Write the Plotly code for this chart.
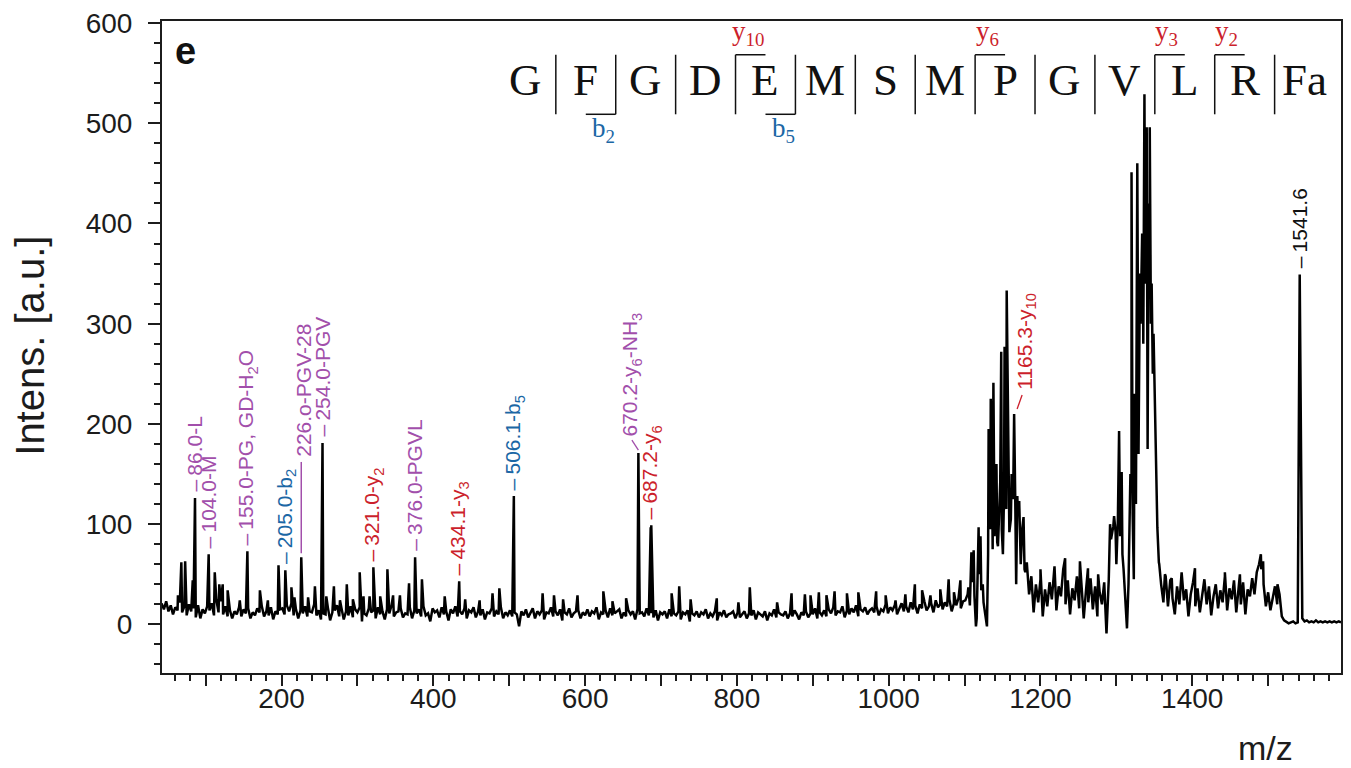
import numpy as np
import plotly.graph_objects as go

# ---------------------------------------------------------------
# MALDI spectrum of GFGDEMSMPGVLRFa (intensity vs m/z)
# ---------------------------------------------------------------
STEP = 3.0  # m/z spacing of the background samples

# background trace, one list per m/z segment
bg_42 = [21, 15, 23, 13, 19, 10, 17, 14, 22, 12,
         18, 9, 20, 13, 16, 7, 19, 6, 15, 11,
         18, 14, 21, 9, 25, 12, 23, 10, 18, 8,
         14, 6, 13, 10, 17, 8, 15, 11, 16, 6,
         12, 9, 16, 12, 18, 8, 13, 9, 17, 5,
         13, 10, 15]
bg_201 = [16, 10, 19, 13, 21, 9, 15, 6, 14, 11,
          18, 8, 13, 12, 20, 9, 14, 5, 11, 10,
          17, 4, 12, 14, 19, 8, 16, 5, 13, 9,
          18, 7, 15, 12, 17, 3, 11, 9, 16, 12,
          14, 6, 17, 10, 13, 5, 15, 11, 19, 8,
          12, 13, 16, 7, 11, 10, 17, 6, 14, 11,
          15, 8, 18, 9, 11, 3, 16, 12, 14, 7,
          17, 10, 13, 4, 15, 11, 18, 8, 13, 10,
          16, 6, 14, 12, 17, 7, 13, 9, 15, 5,
          12, 11, 16, 8, 13, 10, 17, 6, 12, 9]
bg_501 = [14, 8, 12, 10, -2, 13, 9, 15, 7, 12,
          16, 6, 13, 10, 14, 5, 12, 11, 17, 8,
          13, 9, 15, 4, 12, 10, 16, 7, 11, 13,
          14, 6, 12, 9, 15, 8, 13, 11, 17, 5,
          12, 10, 14, 7, 16, 9, 11, 13, 15, 6,
          12, 8, 14, 10, 13, 5, 15, 11, 12, 8,
          16, 9, 11, 7, 14, 4, 12, 10, 13, 6,
          15, 8, 11, 9, 13, 5, 12, 10, 14, 3,
          11, 9, 13, 7, 12, 10, 15, 6, 11, 8,
          13, 4, 12, 9, 14, 7, 10, 11, 13, 6]
bg_801 = [12, 7, 10, 13, 6, 11, 9, 14, 5, 12,
          10, 8, 13, 4, 11, 9, 15, 7, 12, 10,
          9, 13, 6, 11, 8, 14, 10, 5, 12, 9,
          13, 7, 11, 10, 16, 6, 12, 9, 14, 8,
          15, 11, 17, 9, 13, 12, 18, 7, 14, 10,
          16, 12, 19, 8, 15, 13, 17, 10, 14, 16,
          12, 18, 9, 15, 13, 20, 11, 17, 14, 19,
          10, 16, 21, 13, 18, 12, 22, 15, 19, 11,
          20, 16, 23, 14, 18, 21, 12, 24, 17, 20,
          15, 22, 18, 25, 13, 21, 19, 26, 16, 23]
bg_1101 = [24, 30, 19, 42, 28, 6, 50, 34, 22, 8,
           70, 95, 75, 110, 82, 120, 95, 130, 115, 150,
           105, 125, 85, 115, 70, 95, 55, 62, 30, 48,
           12, 40, 22, 45, 8, 35, 18, 42, 25, 50,
           14, 38, 28, 55, 20, 44, 10, 36, 24, 48,
           16, 40, 6, 34, 22, 46, 15, 38, 8, 32,
           20, 42, -9, 45, 85, 98, 92, 104, 88, 70,
           35, -4, 100, 140, 45, 160, 210, 300, 380, 340,
           190, 400, 300, 250, 150, 62, 40, 22, 48, 18,
           44, 26, 10, 38, 20, 52, 24, 35, 8, 30]
bg_1401 = [42, 18, 36, 12, 30, 45, 20, 38, 9, 28,
           40, 16, 34, 22, 48, 14, 36, 25, 44, 12,
           38, 20, 42, 10, 35, 28, 46, 30, 52, 60,
           55, 40, 18, 32, 14, 26, 38, 20, 30, 8,
           4, 2, 1, 2, 3, 1, 2, 310, 6, 3,
           4, 2, 3, 2, 4, 2, 3, 2, 3, 2,
           3, 2, 3, 2, 3, 2]
bg_segments = [(42, bg_42), (201, bg_201), (501, bg_501),
               (801, bg_801), (1101, bg_1101), (1401, bg_1401)]

# unlabelled peaks laid on top of the background
spike_mz = [63.5, 68, 73, 83, 112, 118, 122.5, 129, 145, 171.5, 182, 196,
            213, 217, 235, 244, 259, 269, 277, 286, 294, 303, 308, 316, 330,
            339.5, 347, 356, 368, 385, 415, 442, 461, 478, 487,
            544, 559, 571, 590, 624, 636, 654, 671.5, 686.4, 714, 724, 739, 773.5,
            802, 817, 853, 872, 889.6, 897, 908, 918, 928.7, 945, 960, 983.5,
            996, 1009, 1022, 1034.5, 1044, 1055, 1068, 1079, 1086, 1094.5,
            1105, 1109, 1112, 1115, 1118.5, 1121, 1124, 1129.5, 1131.7, 1133,
            1134.5, 1136, 1138, 1139.5, 1142, 1144, 1147, 1148.3, 1150.5, 1152.7,
            1154.2, 1155.5, 1157, 1159, 1162, 1166.7, 1168, 1169.5, 1172, 1174,
            1177.7, 1180,
            1200, 1218.5, 1232.5, 1252, 1262.6, 1276,
            1291.7, 1297, 1300, 1303.6, 1307, 1309.5, 1313, 1316, 1318.5, 1320,
            1321.5, 1324, 1325.8, 1327.6, 1329.2, 1331, 1334, 1335.5, 1337, 1338.5,
            1340, 1341.2, 1342.5, 1344, 1345.5, 1346.5, 1348, 1349, 1351, 1352.5,
            1354, 1356.5,
            1364, 1373, 1403.6, 1443, 1462.8, 1490.4, 1493.4, 1512.3, 1542.8]
spike_int = [29, 62, 63, 44, 52, 40, 40, 34, 24, 34, 24, 59,
             37, 27, 27, 38, 28, 38, 24, 40, 25, 52, 28, 28, 28,
             55, 29, 29, 41, 45, 28, 25, 24, 31, 36,
             31, 29, 25, 29, 33, 23, 26, 48, 97, 31, 38, 25, 26,
             22, 37, 22, 31, 30, 29, 32, 29, 33, 31, 32, 33,
             29, 24, 30, 40, 34, 29, 35, 45, 32, 44,
             37, 72, 74, -2, 97, 88, 40, -2, 195, 150,
             225, 175, 241, 88, 160, 78, 142, 272, 70, 277,
             200, 333, 221, 92, 150, 130, 40, 128, 123, 60,
             107, 52,
             55, 58, 66, 63, 56, 50,
             100, 108, 60, 193, 152, 55, -1, 40, 150, 451,
             110, 230, 120, 460, 170, 350, 390, 280, 529, 350,
             496, 175, 420, 496, 300, 340, 250, 290, 232, 189,
             97, 60,
             50, 46, 56, 52, 50, 70, 63, 40, 264]

# assigned fragment peaks
label_mz = [86.0, 104.0, 155.0, 205.0, 226.0, 254.0, 321.0, 376.0,
            434.1, 506.1, 670.2, 687.2, 1165.3, 1541.6]
label_int = [126, 70, 73, 54, 67, 181, 57, 67, 43, 128, 171, 99, 210, 349]
label_text = ["86.0-L", "104.0-M", "155.0-PG, GD-H<sub>2</sub>O",
              "205.0-b<sub>2</sub>", "226.o-PGV-28", "254.0-PGV",
              "321.0-y<sub>2</sub>", "376.0-PGVL", "434.1-y<sub>3</sub>",
              "506.1-b<sub>5</sub>", "670.2-y<sub>6</sub>-NH<sub>3</sub>",
              "687.2-y<sub>6</sub>", "1165.3-y<sub>10</sub>", "1541.6"]
label_kind = ["int", "int", "int", "b", "int", "int", "y", "int",
              "y", "b", "int", "y", "y", "parent"]

# peptide sequence and the cleavages that were observed
residues = ["G", "F", "G", "D", "E", "M", "S", "M", "P", "G", "V", "L", "R", "Fa"]
b_ions = [2, 5]
y_ions = [10, 6, 3, 2]

KIND_COLOR = {"int": "#A24FAB", "b": "#1B67A5", "y": "#CC1F2C", "parent": "#111111"}
INK = "#1c1c1c"

# ---------------------------------------------------------------
# assemble the trace
# ---------------------------------------------------------------
mz_all = [s + STEP * np.arange(len(v)) for s, v in bg_segments]
in_all = [np.asarray(v, float) for s, v in bg_segments]
mz_all += [np.asarray(spike_mz, float), np.asarray(label_mz, float)]
in_all += [np.asarray(spike_int, float), np.asarray(label_int, float)]
mz = np.concatenate(mz_all)
inten = np.concatenate(in_all)
order = np.argsort(mz, kind="stable")
mz, inten = mz[order], inten[order]

# ---------------------------------------------------------------
# geometry helpers
# ---------------------------------------------------------------
W, H = 1351, 768
ML, MR, MT, MB = 162, 8, 16, 95
PW, PH = W - ML - MR, H - MT - MB
XR = [42.5, 1596.0]
YR = [-48.5, 602.0]
UX = (XR[1] - XR[0]) / PW   # m/z per pixel
UY = (YR[1] - YR[0]) / PH   # intensity per pixel


def px(xp):
    return (xp - ML) / PW


def py(yp):
    return (MT + PH - yp) / PH


fig = go.Figure()
fig.add_trace(go.Scatter(x=mz, y=inten, mode="lines",
                         line=dict(color="#000000", width=2.5),
                         hoverinfo="skip", showlegend=False))

annotations = []
shapes = []

LABEL_FONT = dict(family="Liberation Sans, Arial, sans-serif", size=21)

for m, h, t, k in zip(label_mz, label_int, label_text, label_kind):
    col = KIND_COLOR[k]
    font = dict(LABEL_FONT, color=col)
    if t.startswith("226"):
        # long leader line up to the label
        shapes.append(dict(type="line", xref="x", yref="y",
                           x0=m, x1=m, y0=h + 4 * UY, y1=h + 96 * UY,
                           line=dict(color=col, width=1.5)))
        annotations.append(dict(x=m, y=h + 99 * UY, xref="x", yref="y",
                                text=t, textangle=-90, showarrow=False,
                                xanchor="center", yanchor="bottom", xshift=2,
                                font=font))
    elif t.startswith("670"):
        shapes.append(dict(type="line", xref="x", yref="y",
                           x0=m, x1=m - 6.5 * UX, y0=h + 3 * UY, y1=h + 13 * UY,
                           line=dict(color=col, width=1.3)))
        annotations.append(dict(x=m, y=h + 15 * UY, xref="x", yref="y",
                                text=t, textangle=-90, showarrow=False,
                                xanchor="center", yanchor="bottom", xshift=-7,
                                font=font))
    elif t.startswith("1165"):
        shapes.append(dict(type="line", xref="x", yref="y",
                           x0=m + 3 * UX, x1=m + 8 * UX, y0=h + 5 * UY, y1=h + 19 * UY,
                           line=dict(color=col, width=1.3)))
        annotations.append(dict(x=m, y=h + 22 * UY, xref="x", yref="y",
                                text=t, textangle=-90, showarrow=False,
                                xanchor="center", yanchor="bottom", xshift=11,
                                font=font))
    else:
        annotations.append(dict(x=m, y=h, xref="x", yref="y",
                                text="\u2013\u2009" + t, textangle=-90, showarrow=False,
                                xanchor="center", yanchor="bottom", yshift=4,
                                font=font))

# ---- peptide sequence with fragment brackets ----
SEQ_FONT = "Liberation Serif, Times New Roman, serif"
CELL = 60.0
FIRST_CENTER = 526.5
SEP_TOP, SEP_BOT = 50, 110
for i, r in enumerate(residues):
    annotations.append(dict(x=px(FIRST_CENTER + CELL * i), y=py(75),
                            xref="paper", yref="paper", text=r, showarrow=False,
                            xanchor="center", yanchor="middle",
                            font=dict(family=SEQ_FONT, size=45, color="#111111")))
for kk in range(len(residues) - 1):
    sx = FIRST_CENTER + CELL * (kk + 0.5)
    shapes.append(dict(type="line", xref="paper", yref="paper",
                       x0=px(sx), x1=px(sx), y0=py(SEP_TOP), y1=py(SEP_BOT),
                       line=dict(color="#111111", width=1.5)))
for n in b_ions:
    sx = FIRST_CENTER + CELL * (n - 0.5)
    shapes.append(dict(type="line", xref="paper", yref="paper",
                       x0=px(sx - CELL / 2), x1=px(sx), y0=py(SEP_BOT), y1=py(SEP_BOT),
                       line=dict(color="#111111", width=1.5)))
    annotations.append(dict(x=px(sx - 12), y=py(126), xref="paper", yref="paper",
                            text="b<sub>%d</sub>" % n, showarrow=False,
                            xanchor="center", yanchor="middle",
                            font=dict(family=SEQ_FONT, size=27, color=KIND_COLOR["b"])))
for n in y_ions:
    sx = FIRST_CENTER + CELL * (len(residues) - n - 0.5)
    shapes.append(dict(type="line", xref="paper", yref="paper",
                       x0=px(sx), x1=px(sx + CELL / 2), y0=py(SEP_TOP), y1=py(SEP_TOP),
                       line=dict(color="#111111", width=1.5)))
    annotations.append(dict(x=px(sx + 12), y=py(28), xref="paper", yref="paper",
                            text="y<sub>%d</sub>" % n, showarrow=False,
                            xanchor="center", yanchor="middle",
                            font=dict(family=SEQ_FONT, size=27, color=KIND_COLOR["y"])))

# ---- panel letter and axis titles ----
SANS = "Liberation Sans, Arial, sans-serif"
annotations.append(dict(x=px(186), y=py(46), xref="paper", yref="paper",
                        text="<b>e</b>", showarrow=False, xanchor="center", yanchor="middle",
                        font=dict(family=SANS, size=38, color="#111111")))
annotations.append(dict(x=px(29), y=py(343), xref="paper", yref="paper",
                        text="Intens. [a.u.]", textangle=-90, showarrow=False,
                        xanchor="center", yanchor="middle",
                        font=dict(family=SANS, size=40, color=INK)))
annotations.append(dict(x=px(1267), y=py(749), xref="paper", yref="paper",
                        text="m/z", showarrow=False, xanchor="center", yanchor="middle",
                        font=dict(family=SANS, size=34, color=INK)))

x_major = list(range(100, 1600, 100))
x_text = [str(v) if v % 200 == 0 else "" for v in x_major]

fig.update_layout(
    width=W, height=H,
    margin=dict(l=ML, r=MR, t=MT, b=MB, pad=0),
    paper_bgcolor="white", plot_bgcolor="white",
    showlegend=False,
    annotations=annotations,
    shapes=shapes,
    xaxis=dict(range=XR, showgrid=False, zeroline=False,
               showline=True, linewidth=2, linecolor=INK, mirror=True,
               ticks="outside", ticklen=11, tickwidth=2, tickcolor=INK,
               tickmode="array", tickvals=x_major, ticktext=x_text,
               ticklabelstandoff=-12,
               minor=dict(ticks="outside", ticklen=6, tickwidth=1.5, tickcolor=INK,
                          dtick=20, tick0=0, showgrid=False),
               tickfont=dict(family=SANS, size=28, color=INK)),
    yaxis=dict(range=YR, showgrid=False, zeroline=False,
               showline=True, linewidth=2, linecolor=INK, mirror=True,
               ticks="outside", ticklen=12, tickwidth=2, tickcolor=INK,
               tick0=0, dtick=100, ticklabelstandoff=10,
               minor=dict(ticks="outside", ticklen=6, tickwidth=1.5, tickcolor=INK,
                          dtick=20, tick0=0, showgrid=False),
               tickfont=dict(family=SANS, size=28, color=INK)),
)

fig.write_html("out.html")
